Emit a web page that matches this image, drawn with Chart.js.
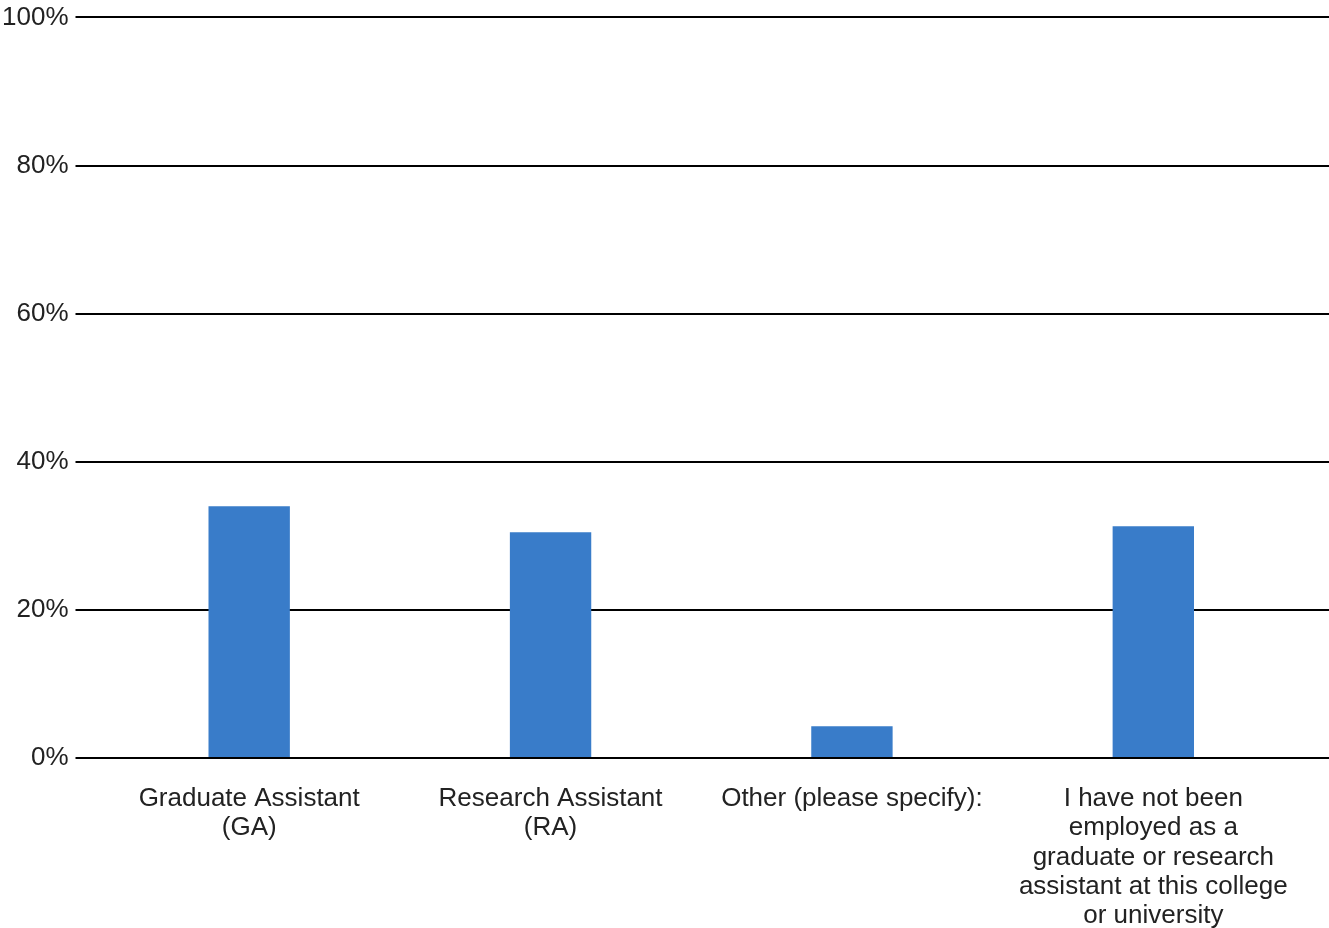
<!DOCTYPE html>
<html>
<head>
<meta charset="utf-8">
<script src="https://cdn.jsdelivr.net/npm/chart.js@4/dist/chart.umd.min.js"></script>
<style>
  html, body { margin: 0; padding: 0; background: #fff; }
  #wrap { width: 1329px; height: 928px; }
</style>
</head>
<body>
<div id="wrap"><canvas id="chartCanvas"></canvas></div>
<script>
// data
const categories = [
    ["Graduate Assistant", "(GA)"],
    ["Research Assistant", "(RA)"],
    ["Other (please specify):"],
    ["I have not been", "employed as a", "graduate or research", "assistant at this college", "or university"]
];
const shares = [34.0, 30.5, 4.3, 31.3];
const yTicks = [0, 20, 40, 60, 80, 100];

const FONT = "'Liberation Sans', Arial, sans-serif";

// grid lines run on past the right edge of the plot area
const gridRunout = {
    id: "gridRunout",
    beforeDatasetsDraw(chart) {
        const { ctx, chartArea, scales } = chart;
        ctx.save();
        ctx.strokeStyle = "#000";
        ctx.lineWidth = 2;
        scales.y.ticks.forEach(t => {
            const y = Math.round(scales.y.getPixelForValue(t.value));
            ctx.beginPath();
            ctx.moveTo(chartArea.right - 1, y);
            ctx.lineTo(chart.width, y);
            ctx.stroke();
        });
        ctx.restore();
    }
};

new Chart(document.getElementById("chartCanvas").getContext("2d"), {
    type: "bar",
    data: {
        labels: categories,
        datasets: [{
            data: shares,
            backgroundColor: "#397cc9",
            categoryPercentage: 1,
            barPercentage: 0.27
        }]
    },
    options: {
        responsive: true,
        maintainAspectRatio: false,
        animation: false,
        layout: { padding: { left: -5, right: 25, top: 0, bottom: -29 } },
        plugins: {
            legend: { display: false },
            tooltip: { enabled: false }
        },
        scales: {
            x: {
                grid: { display: false, drawTicks: false },
                border: { display: false },
                ticks: {
                    color: "#222",
                    font: { family: FONT, size: 26, lineHeight: 1.13 },
                    padding: 26,
                    maxRotation: 0,
                    autoSkip: false
                }
            },
            y: {
                min: 0,
                max: 100,
                afterBuildTicks(axis) {
                    axis.ticks = yTicks.map(v => ({ value: v }));
                },
                grid: { color: "#000", lineWidth: 2, tickLength: 23 },
                border: { display: false },
                ticks: {
                    color: "#222",
                    font: { family: FONT, size: 26, lineHeight: 0.8 },
                    padding: 7,
                    callback: v => v + "%"
                }
            }
        }
    },
    plugins: [gridRunout]
});
</script>
</body>
</html>
